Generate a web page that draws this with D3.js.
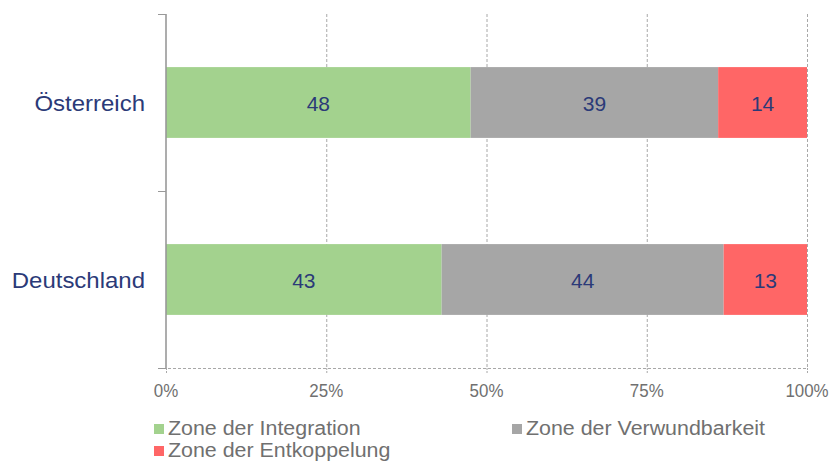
<!DOCTYPE html>
<html><head><meta charset="utf-8">
<script src="https://cdn.jsdelivr.net/npm/d3@7"></script>
<style>body{margin:0;background:#fff;} text{font-family:"Liberation Sans",Arial,sans-serif;}</style>
</head><body>
<svg id="chart" width="835" height="465"></svg>
<script>
const categories = ["Österreich", "Deutschland"];
const seriesNames = ["Zone der Integration", "Zone der Verwundbarkeit", "Zone der Entkoppelung"];
const integration = [48, 43];
const verwundbarkeit = [39, 44];
const entkoppelung = [14, 13];
const tickLabels = ["0%", "25%", "50%", "75%", "100%"];
const colors = ["#a3d28e", "#a6a6a6", "#ff6666"];

(function () {
const svg = d3.select("#chart");
const mLeft = 166, mRight = 807, mTop = 14, mBottom = 368;
const x = d3.scaleLinear().domain([0, 1]).range([mLeft, mRight]);
const y = d3.scaleBand().domain(categories).range([mTop, mBottom]).paddingInner(0.6).paddingOuter(0.3);

const rows = categories.map((c, i) => {
  const vals = [integration[i], verwundbarkeit[i], entkoppelung[i]];
  const total = d3.sum(vals);
  let acc = 0;
  return vals.map((v, k) => { const s = acc; acc += v; return {cat: c, k, v, x0: s / total, x1: acc / total}; });
});

const ticks = [0, 0.25, 0.5, 0.75, 1];
svg.append("g").selectAll("line").data(ticks.slice(1)).join("line")
  .attr("x1", d => x(d) + 0.5).attr("x2", d => x(d) + 0.5)
  .attr("y1", mTop).attr("y2", mBottom)
  .attr("stroke", "#a8a8a8").attr("stroke-dasharray", "3,2").attr("stroke-width", 1);

svg.append("line").attr("x1", mLeft - 8).attr("x2", mRight).attr("y1", mBottom + 0.5).attr("y2", mBottom + 0.5)
  .attr("stroke", "#a8a8a8").attr("stroke-dasharray", "3,2");
svg.append("g").selectAll("line").data(ticks).join("line")
  .attr("x1", d => x(d) + 0.5).attr("x2", d => x(d) + 0.5)
  .attr("y1", mBottom).attr("y2", mBottom + 5)
  .attr("stroke", "#a8a8a8").attr("stroke-dasharray", "2,1");

svg.append("g").selectAll("g").data(rows).join("g")
  .selectAll("rect").data(d => d).join("rect")
  .attr("x", d => x(d.x0)).attr("width", d => x(d.x1) - x(d.x0))
  .attr("y", d => y(d.cat)).attr("height", y.bandwidth())
  .attr("fill", d => colors[d.k]);

svg.append("g").selectAll("g").data(rows).join("g")
  .selectAll("text").data(d => d).join("text")
  .attr("transform", d => `translate(${(x(d.x0) + x(d.x1)) / 2},${y(d.cat) + y.bandwidth() / 2 + 8})`)
  .attr("text-anchor", "middle")
  .attr("font-size", 21).attr("fill", "#2b3a78")
  .text(d => d.v);

svg.append("line").attr("x1", mLeft).attr("x2", mLeft).attr("y1", mTop).attr("y2", mBottom)
  .attr("stroke", "#999").attr("stroke-width", 1.6);
const yTicks = [mTop, (mTop + mBottom) / 2, mBottom];
svg.append("g").selectAll("line").data(yTicks).join("line")
  .attr("x1", mLeft - 8).attr("x2", mLeft).attr("y1", d => d + 0.5).attr("y2", d => d + 0.5)
  .attr("stroke", "#999");
svg.append("g").selectAll("text").data(categories).join("text")
  .attr("transform", d => `translate(145,${y(d) + y.bandwidth() / 2 + 8}) scale(1.09,1)`)
  .attr("text-anchor", "end")
  .attr("font-size", 22).attr("fill", "#2b3a78").text(d => d);

svg.append("g").selectAll("text").data(ticks).join("text")
  .attr("transform", d => `translate(${x(d)},397) scale(0.94,1)`)
  .attr("text-anchor", "middle").attr("font-size", 18).attr("fill", "#707070")
  .text((d, i) => tickLabels[i]);

const legendPos = [[154, 435], [512, 435], [154, 457]];
const lg = svg.append("g").selectAll("g").data(seriesNames).join("g")
  .attr("transform", (d, i) => `translate(${legendPos[i][0]},${legendPos[i][1]})`);
lg.append("rect").attr("x", 0).attr("y", -11).attr("width", 10).attr("height", 10).attr("fill", (d, i) => colors[i]);
lg.append("text").attr("transform", "translate(14,0) scale(1.07,1)").attr("font-size", 20).attr("fill", "#707070").text(d => d);
})();
</script>
</body></html>
